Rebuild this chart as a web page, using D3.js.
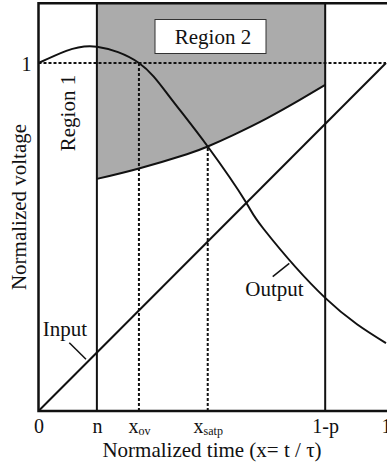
<!DOCTYPE html>
<html>
<head>
<meta charset="utf-8">
<script src="https://cdn.jsdelivr.net/npm/d3@7"></script>
<style>
  body { margin: 0; background: #fff; }
  svg text { font-family: "Liberation Serif", "Times New Roman", serif; fill: #111; }
</style>
</head>
<body>
<div id="chart"></div>
<script>
// tick positions on the normalized time axis
var tickValues = [0, 0.168, 0.289, 0.487, 0.825, 1];
var tickLabels = [["0", ""], ["n", ""], ["x", "ov"], ["x", "satp"], ["1-p", ""], ["1", ""]];

// input ramp
var inputX = [0, 1];
var inputY = [0, 1];

// output voltage curve
var outputX = [0, 0.08, 0.168, 0.289, 0.378, 0.487, 0.597, 0.648, 0.825, 1.0];
var outputY = [1.0, 1.035, 1.047, 1.0, 0.902, 0.760, 0.600, 0.523, 0.325, 0.195];

// lower bound of the shaded region 2
var boundX = [0.168, 0.289, 0.427, 0.487, 0.56, 0.657, 0.752, 0.825];
var boundY = [0.667, 0.697, 0.738, 0.760, 0.793, 0.841, 0.894, 0.937];

var width = 387, height = 466;
var yTop = 1.172;

var svg = d3.select("#chart").append("svg")
    .attr("width", width)
    .attr("height", height);

var x = d3.scaleLinear().domain([0, 1]).range([38.5, 386]);
var y = d3.scaleLinear().domain([0, 1]).range([411, 63]);

var line = d3.line()
    .x(function(d){ return x(d[0]); })
    .y(function(d){ return y(d[1]); });
var smooth = d3.line()
    .x(function(d){ return x(d[0]); })
    .y(function(d){ return y(d[1]); })
    .curve(d3.curveNatural);

var outputData = outputX.map(function(v, i){ return [v, outputY[i]]; });
var boundData = boundX.map(function(v, i){ return [v, boundY[i]]; });
var inputData = inputX.map(function(v, i){ return [v, inputY[i]]; });

// shaded region: between the bound curve and the top of the frame
var area = d3.area()
    .x(function(d){ return x(d[0]); })
    .y0(y(yTop))
    .y1(function(d){ return y(d[1]); })
    .curve(d3.curveNatural);
svg.append("path")
    .datum(boundData)
    .attr("d", area)
    .attr("fill", "#ababab");

// dotted guides
var dotted = svg.append("g")
    .attr("fill", "none")
    .attr("stroke", "#111")
    .attr("stroke-width", 2)
    .attr("stroke-dasharray", "3,2");
dotted.append("path").attr("d", line([[0, 1], [1, 1]]));
dotted.append("path").attr("d", line([[tickValues[2], 0], [tickValues[2], 1]]));
dotted.append("path").attr("d", line([[tickValues[3], 0], [tickValues[3], boundY[3]]]));

// solid vertical boundaries n and 1-p
var solid = svg.append("g")
    .attr("fill", "none")
    .attr("stroke", "#111")
    .attr("stroke-width", 2);
solid.append("path").attr("d", line([[tickValues[1], 0], [tickValues[1], yTop]]));
solid.append("path").attr("d", line([[tickValues[4], 0], [tickValues[4], yTop]]));

// curves
solid.append("path").datum(boundData).attr("d", smooth);
solid.append("path").datum(outputData).attr("d", smooth);
solid.append("path").datum(inputData).attr("d", line);

// frame (right side falls outside the picture)
svg.append("path")
    .attr("d", line([[1.01, yTop], [0, yTop], [0, 0], [1.01, 0]]))
    .attr("fill", "none")
    .attr("stroke", "#111")
    .attr("stroke-width", 2.5);

// x axis labels
var xAxis = d3.axisBottom(x)
    .tickValues(tickValues)
    .tickSize(0)
    .tickFormat("");
var gx = svg.append("g")
    .attr("transform", "translate(0," + y(0) + ")")
    .call(xAxis);
gx.select(".domain").remove();
gx.selectAll(".tick text")
    .attr("y", 22)
    .attr("dy", 0)
    .style("font-size", "20px")
    .each(function(d, i){
      var t = d3.select(this);
      t.append("tspan").text(tickLabels[i][0]);
      if (tickLabels[i][1]) {
        t.append("tspan").attr("dy", 2).style("font-size", "12px").text(tickLabels[i][1]);
      }
    });

// y tick "1"
var yAxis = d3.axisLeft(y).tickValues([1]).tickSize(0).tickFormat(d3.format("d"));
var gy = svg.append("g")
    .attr("transform", "translate(" + x(0) + ",0)")
    .call(yAxis);
gy.select(".domain").remove();
gy.selectAll(".tick text")
    .attr("x", -7)
    .attr("dy", "0.35em")
    .style("font-size", "20px");

// axis titles
svg.append("text")
    .attr("x", 212)
    .attr("y", 457)
    .attr("text-anchor", "middle")
    .style("font-size", "21px")
    .text("Normalized time (x= t / τ)");

svg.append("text")
    .attr("transform", "translate(26,207) rotate(-90)")
    .attr("text-anchor", "middle")
    .style("font-size", "21px")
    .text("Normalized voltage");

// region labels
svg.append("rect")
    .attr("x", 155).attr("y", 19.5)
    .attr("width", 111).attr("height", 34)
    .attr("fill", "#fff")
    .attr("stroke", "#333")
    .attr("stroke-width", 1);
svg.append("text")
    .attr("x", 213)
    .attr("y", 44)
    .attr("text-anchor", "middle")
    .style("font-size", "21px")
    .text("Region 2");

svg.append("text")
    .attr("transform", "translate(75,113) rotate(-90)")
    .attr("text-anchor", "middle")
    .style("font-size", "21px")
    .text("Region 1");

// curve labels with leaders
svg.append("text")
    .attr("x", 65).attr("y", 336)
    .attr("text-anchor", "middle")
    .style("font-size", "21px")
    .text("Input");
solid.append("path").attr("stroke-width", 1.5).attr("d", "M69.3,342.7L86,359.3");

svg.append("text")
    .attr("x", 274.5).attr("y", 296)
    .attr("text-anchor", "middle")
    .style("font-size", "21px")
    .text("Output");
solid.append("path").attr("stroke-width", 1.5).attr("d", "M272.7,276.7L289.3,263.3");
</script>
</body>
</html>
